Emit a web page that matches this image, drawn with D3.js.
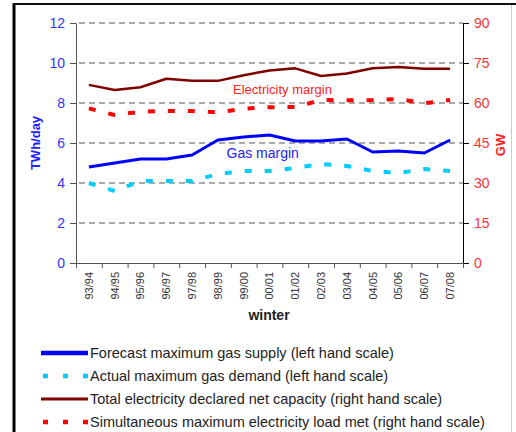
<!DOCTYPE html>
<html>
<head>
<meta charset="utf-8">
<script src="https://cdn.jsdelivr.net/npm/d3@7"></script>
<style>
  body { margin: 0; background: #fff; }
  text { font-family: Arial, "Liberation Sans", sans-serif; }
</style>
</head>
<body>
<div id="container"></div>
<script>
/* DATA */
const winters = ["93/94", "94/95", "95/96", "96/97", "97/98", "98/99", "99/00", "00/01",
                 "01/02", "02/03", "03/04", "04/05", "05/06", "06/07", "07/08"]
const gasSupply = [4.8, 5.0, 5.2, 5.2, 5.4, 6.15, 6.3, 6.4, 6.1, 6.1, 6.2, 5.55, 5.6, 5.5, 6.15]
const gasDemand = [4.0, 3.6, 4.1, 4.1, 4.1, 4.45, 4.6, 4.6, 4.75, 4.95, 4.85, 4.6, 4.5, 4.7, 4.6]
const elecCapacity = [66.8, 64.9, 65.9, 69.1, 68.3, 68.3, 70.4, 72.2, 73.0, 70.1, 71.1, 73.0, 73.5, 72.8, 72.8]
const elecLoad = [58.0, 55.5, 56.7, 57.0, 57.0, 56.5, 57.9, 58.4, 58.5, 61.1, 61.0, 61.1, 61.5, 59.9, 61.1]
const leftTicks = [0, 2, 4, 6, 8, 10, 12]
const rightTicks = [0, 15, 30, 45, 60, 75, 90]
const legendItems = [
    { label: "Forecast maximum gas supply (left hand scale)", color: "#0000ff", dash: null, w: 4.5 },
    { label: "Actual maximum gas demand (left hand scale)", color: "#00ccff", dash: "5,15", w: 4.5 },
    { label: "Total electricity declared net capacity (right hand scale)", color: "#800000", dash: null, w: 3 },
    { label: "Simultaneous maximum electricity load met (right hand scale)", color: "#ff0000", dash: "5,15", w: 4.5 }
]

/* CONSTANTS */
const width = 516,
    height = 432,
    plotLeft = 76,
    plotRight = 463,
    plotTop = 23,
    plotBottom = 263;

const svg = d3.select("#container")
    .append("svg")
    .attr("width", width)
    .attr("height", height)

// frame
svg.append("line").attr("x1", 14).attr("x2", 14).attr("y1", 3).attr("y2", height)
    .attr("stroke", "#000").attr("stroke-width", 3)
svg.append("line").attr("x1", 13).attr("x2", 516).attr("y1", 4).attr("y2", 4)
    .attr("stroke", "#111").attr("stroke-width", 2)
svg.append("line").attr("x1", 511.5).attr("x2", 511.5).attr("y1", 5).attr("y2", height)
    .attr("stroke", "#ccc").attr("stroke-width", 1)

// SCALES
const xScale = d3.scaleBand().domain(winters).range([plotLeft, plotRight])
const xEdge = d3.scaleLinear().domain([0, winters.length]).range([plotLeft, plotRight])
const yLeft = d3.scaleLinear().domain([0, 12]).range([plotBottom, plotTop])
const yRight = d3.scaleLinear().domain([0, 90]).range([plotBottom, plotTop])

// GRID
svg.append("g")
    .selectAll("line")
    .data(leftTicks.filter(d => d > 0))
    .join("line")
    .attr("x1", plotLeft).attr("x2", plotRight)
    .attr("y1", d => yLeft(d)).attr("y2", d => yLeft(d))
    .attr("stroke", "#555")
    .attr("stroke-dasharray", "6,4")
    .attr("stroke-dashoffset", -3)
    .attr("stroke-width", 1)

// AXES
const gLeft = svg.append("g")
    .attr("transform", "translate(" + plotLeft + ",0)")
    .call(d3.axisLeft(yLeft).tickValues(leftTicks).tickSize(6).tickPadding(5))
gLeft.select(".domain").attr("stroke", "#555")
gLeft.selectAll(".tick line").attr("stroke", "#555")
gLeft.selectAll("text").attr("fill", "#3333ff").style("font-size", "14px")

const gRight = svg.append("g")
    .attr("transform", "translate(" + plotRight + ",0)")
    .call(d3.axisRight(yRight).tickValues(rightTicks).tickSize(6).tickPadding(5))
gRight.select(".domain").attr("stroke", "#000")
gRight.selectAll(".tick line").attr("stroke", "#000")
gRight.selectAll("text").attr("fill", "#ff3333").style("font-size", "14px")

const gBottom = svg.append("g")
    .attr("transform", "translate(0," + plotBottom + ")")
    .call(d3.axisBottom(xEdge).tickValues(d3.range(winters.length + 1)).tickSize(5).tickFormat(""))
gBottom.select(".domain").attr("stroke", "#555")
gBottom.selectAll(".tick line").attr("stroke", "#555")

// x labels
svg.append("g")
    .selectAll("text")
    .data(winters)
    .join("text")
    .attr("transform", d => "translate(" + (xScale(d) + xScale.bandwidth() / 2) + ",272) rotate(-90)")
    .attr("dy", "0.35em")
    .attr("text-anchor", "end")
    .attr("fill", "#333")
    .style("font-size", "11px")
    .text(d => d)

// LABELS
svg.append("text")
    .attr("x", 269).attr("y", 320)
    .attr("text-anchor", "middle")
    .attr("fill", "#222")
    .style("font-size", "14px").style("font-weight", "bold")
    .text("winter")

svg.append("text")
    .attr("transform", "translate(40,143) rotate(-90)")
    .attr("text-anchor", "middle")
    .attr("fill", "#2222ff")
    .style("font-size", "13px").style("font-weight", "bold")
    .text("TWh/day")

svg.append("text")
    .attr("transform", "translate(505,145) rotate(-90)")
    .attr("text-anchor", "middle")
    .attr("fill", "#ff2222")
    .style("font-size", "13px").style("font-weight", "bold")
    .text("GW")

// LINES
const cx = d => xScale(d) + xScale.bandwidth() / 2

const series = [
    { values: gasSupply, y: yLeft, color: "#0000ff", dash: null, w: 3 },
    { values: gasDemand, y: yLeft, color: "#00ccff", dash: "7,13", w: 4 },
    { values: elecCapacity, y: yRight, color: "#800000", dash: null, w: 2.5 },
    { values: elecLoad, y: yRight, color: "#ff0000", dash: "7,13", w: 4 }
]

series.forEach(s => {
    const line = d3.line()
        .x((d, i) => cx(winters[i]))
        .y(d => s.y(d))
    svg.append("path")
        .datum(s.values)
        .attr("d", line)
        .attr("fill", "none")
        .attr("stroke", s.color)
        .attr("stroke-width", s.w)
        .attr("stroke-dasharray", s.dash)
        .attr("stroke-linejoin", "round")
})

// annotations
svg.append("text")
    .attr("x", 233).attr("y", 93.5)
    .attr("fill", "#ff2222")
    .style("font-size", "13px")
    .text("Electricity margin")

svg.append("text")
    .attr("x", 226.5).attr("y", 157.5)
    .attr("fill", "#2222ff")
    .style("font-size", "14px")
    .text("Gas margin")

// LEGEND
const legend = svg.append("g")
    .selectAll("g")
    .data(legendItems)
    .join("g")
    .attr("transform", (d, i) => "translate(0," + (353 + i * 23) + ")")

legend.append("line")
    .attr("x1", 41).attr("x2", 88)
    .attr("stroke", d => d.color)
    .attr("stroke-width", d => d.w)
    .attr("stroke-dasharray", d => d.dash)
    .attr("stroke-dashoffset", d => d.dash ? -2 : null)

legend.append("text")
    .attr("x", 90).attr("dy", "0.35em")
    .attr("fill", "#222")
    .style("font-size", "14.5px")
    .text(d => d.label)
</script>
</body>
</html>
